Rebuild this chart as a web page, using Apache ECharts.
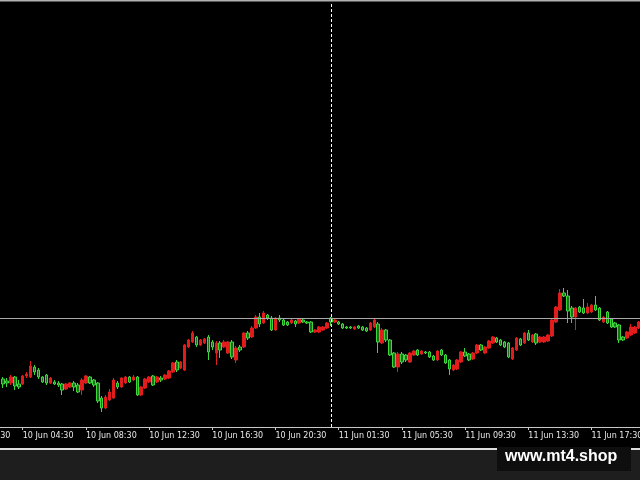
<!DOCTYPE html>
<html><head><meta charset="utf-8">
<script src="https://cdn.jsdelivr.net/npm/echarts@6/dist/echarts.min.js"></script>
<style>html,body{margin:0;padding:0;background:#000;}#c{width:640px;height:480px;}</style>
</head><body><div id="c"></div>
<script>
// ---- data (M15 candles) ----
const tickLabels = ['10 Jun 00:30','10 Jun 04:30','10 Jun 08:30','10 Jun 12:30','10 Jun 16:30','10 Jun 20:30',
  '11 Jun 01:30','11 Jun 05:30','11 Jun 09:30','11 Jun 13:30','11 Jun 17:30'];
const firstSlot = '10 Jun 00:30';     // first (off-screen) bar on the axis
const firstCandle = '10 Jun 03:15';   // first visible candle
const daySeparator = '11 Jun 01:00';  // first bar of 11 Jun
const bidLevel = 1.0932;
const slotCount = 173;

const open = [1.0871,1.0869,1.0867,1.0873,1.0866,1.0866,1.0874,1.0873,1.0883,1.0880,
1.0873,1.0875,1.0867,1.0868,1.0867,1.0866,1.0861,1.0863,1.0867,1.0865,
1.0860,1.0867,1.0873,1.0870,1.0867,1.0852,1.0842,1.0850,1.0852,1.0867,
1.0863,1.0867,1.0873,1.0870,1.0873,1.0855,1.0862,1.0868,1.0874,1.0868,
1.0872,1.0871,1.0872,1.0878,1.0888,1.0882,1.0880,1.0903,1.0908,1.0913,
1.0905,1.0907,1.0913,1.0908,1.0897,1.0907,1.0903,1.0897,1.0908,1.0890,
1.0903,1.0903,1.0917,1.0913,1.0922,1.0933,1.0927,1.0935,1.0932,1.0920,
1.0932,1.0930,1.0928,1.0927,1.0929,1.0927,1.0930,1.0928,1.0928,1.0918,
1.0918,1.0920,1.0922,1.0932,1.0928,1.0928,1.0926,1.0923,1.0923,1.0921,
1.0924,1.0923,1.0922,1.0920,1.0923,1.0926,1.0907,1.0920,1.0910,1.0897,
1.0883,1.0896,1.0895,1.0888,1.0895,1.0900,1.0896,1.0898,1.0898,1.0894,
1.0890,1.0900,1.0895,1.0890,1.0880,1.0881,1.0888,1.0898,1.0896,1.0891,
1.0897,1.0905,1.0897,1.0902,1.0907,1.0912,1.0910,1.0908,1.0907,1.0891,
1.0900,1.0911,1.0907,1.0917,1.0908,1.0916,1.0908,1.0908,1.0909,1.0914,
1.0928,1.0940,1.0957,1.0954,1.0942,1.0933,1.0943,1.0942,1.0937,1.0938,
1.0945,1.0942,1.0928,1.0938,1.0931,1.0927,1.0925,1.0913,1.0912,1.0915,
1.0917,1.0922];
const close = [1.0866,1.0867,1.0873,1.0864,1.0863,1.0874,1.0876,1.0884,1.0878,1.0873,
1.0868,1.0867,1.0872,1.0866,1.0865,1.0860,1.0866,1.0867,1.0863,1.0858,
1.0870,1.0874,1.0867,1.0865,1.0849,1.0842,1.0853,1.0858,1.0870,1.0863,
1.0872,1.0873,1.0868,1.0873,1.0855,1.0863,1.0871,1.0873,1.0865,1.0873,
1.0870,1.0875,1.0879,1.0887,1.0880,1.0888,1.0905,1.0910,1.0917,1.0905,
1.0910,1.0911,1.0898,1.0903,1.0907,1.0900,1.0908,1.0908,1.0893,1.0902,
1.0900,1.0917,1.0912,1.0922,1.0933,1.0926,1.0937,1.0932,1.0920,1.0932,
1.0930,1.0925,1.0925,1.0930,1.0926,1.0931,1.0928,1.0927,1.0918,1.0920,
1.0923,1.0923,1.0927,1.0928,1.0930,1.0926,1.0922,1.0922,1.0922,1.0923,
1.0922,1.0920,1.0919,1.0927,1.0930,1.0908,1.0920,1.0910,1.0895,1.0883,
1.0896,1.0888,1.0890,1.0897,1.0899,1.0895,1.0899,1.0897,1.0893,1.0890,
1.0899,1.0895,1.0887,1.0881,1.0885,1.0890,1.0898,1.0894,1.0890,1.0897,
1.0905,1.0900,1.0903,1.0909,1.0913,1.0908,1.0905,1.0903,1.0893,1.0902,
1.0912,1.0905,1.0917,1.0910,1.0915,1.0907,1.0913,1.0913,1.0915,1.0930,
1.0943,1.0957,1.0954,1.0939,1.0933,1.0942,1.0938,1.0937,1.0943,1.0945,
1.0940,1.0930,1.0933,1.0927,1.0923,1.0923,1.0910,1.0910,1.0918,1.0923,
1.0923,1.0928];
const high = [1.0873,1.0872,1.0875,1.0874,1.0870,1.0875,1.0878,1.0889,1.0885,1.0882,
1.0874,1.0876,1.0873,1.0870,1.0869,1.0867,1.0867,1.0868,1.0869,1.0867,
1.0872,1.0875,1.0874,1.0871,1.0868,1.0854,1.0855,1.0861,1.0872,1.0869,
1.0873,1.0874,1.0874,1.0875,1.0874,1.0864,1.0872,1.0874,1.0875,1.0874,
1.0874,1.0876,1.0880,1.0888,1.0890,1.0889,1.0906,1.0911,1.0919,1.0914,
1.0911,1.0912,1.0915,1.0910,1.0909,1.0909,1.0910,1.0909,1.0910,1.0904,
1.0905,1.0918,1.0919,1.0924,1.0935,1.0937,1.0939,1.0936,1.0934,1.0933,
1.0935,1.0931,1.0929,1.0931,1.0930,1.0932,1.0931,1.0929,1.0929,1.0921,
1.0924,1.0924,1.0928,1.0933,1.0931,1.0929,1.0927,1.0924,1.0924,1.0924,
1.0925,1.0924,1.0923,1.0928,1.0932,1.0928,1.0922,1.0921,1.0911,1.0898,
1.0898,1.0898,1.0896,1.0898,1.0900,1.0901,1.0900,1.0899,1.0899,1.0895,
1.0900,1.0901,1.0896,1.0891,1.0886,1.0891,1.0899,1.0902,1.0897,1.0898,
1.0906,1.0906,1.0904,1.0910,1.0914,1.0913,1.0911,1.0909,1.0908,1.0903,
1.0913,1.0912,1.0918,1.0920,1.0916,1.0917,1.0914,1.0914,1.0916,1.0931,
1.0944,1.0961,1.0962,1.0960,1.0944,1.0943,1.0944,1.0951,1.0947,1.0946,
1.0954,1.0943,1.0934,1.0939,1.0932,1.0928,1.0926,1.0914,1.0919,1.0926,
1.0924,1.0929];
const low = [1.0862,1.0863,1.0865,1.0860,1.0861,1.0865,1.0872,1.0872,1.0875,1.0871,
1.0867,1.0865,1.0866,1.0865,1.0863,1.0855,1.0860,1.0862,1.0859,1.0857,
1.0855,1.0866,1.0866,1.0863,1.0847,1.0838,1.0841,1.0849,1.0851,1.0861,
1.0862,1.0866,1.0867,1.0869,1.0854,1.0854,1.0861,1.0867,1.0864,1.0867,
1.0868,1.0870,1.0871,1.0877,1.0878,1.0881,1.0879,1.0902,1.0907,1.0903,
1.0904,1.0906,1.0890,1.0900,1.0885,1.0892,1.0902,1.0896,1.0891,1.0887,
1.0898,1.0902,1.0910,1.0912,1.0921,1.0923,1.0926,1.0930,1.0919,1.0919,
1.0928,1.0924,1.0924,1.0926,1.0923,1.0926,1.0927,1.0926,1.0917,1.0917,
1.0917,1.0919,1.0921,1.0924,1.0927,1.0925,1.0921,1.0921,1.0921,1.0920,
1.0921,1.0919,1.0918,1.0919,1.0922,1.0897,1.0906,1.0908,1.0894,1.0882,
1.0878,1.0886,1.0888,1.0887,1.0894,1.0894,1.0895,1.0896,1.0892,1.0889,
1.0889,1.0894,1.0886,1.0875,1.0879,1.0880,1.0887,1.0893,1.0889,1.0890,
1.0896,1.0899,1.0896,1.0901,1.0906,1.0907,1.0904,1.0902,1.0892,1.0890,
1.0899,1.0904,1.0906,1.0909,1.0907,1.0905,1.0907,1.0907,1.0908,1.0913,
1.0927,1.0939,1.0953,1.0927,1.0927,1.0920,1.0937,1.0936,1.0936,1.0937,
1.0939,1.0929,1.0927,1.0926,1.0922,1.0922,1.0907,1.0909,1.0911,1.0914,
1.0916,1.0921];

// ---- build category axis (15-minute bars, no bars 11 Jun 00:00-00:45) ----
function pad(n){ return (n < 10 ? '0' : '') + n; }
const categories = [];
(function(){
  const p = firstSlot.split(' ');
  let day = +p[0], t = p[2].split(':'), m = (+t[0]) * 60 + (+t[1]);
  for (let k = 0; k < slotCount; k++) {
    categories.push(day + ' Jun ' + pad(Math.floor(m / 60)) + ':' + pad(m % 60));
    m += 15;
    if (m >= 1440) { m -= 1440; day += 1; }
    if (day === 11 && m < 60) m = 60;
  }
})();
const lead = categories.indexOf(firstCandle);
const candleData = categories.map((c, k) => {
  const i = k - lead;
  if (i < 0 || i >= open.length) return '-';
  return [open[i], close[i], low[i], high[i]];
});
const isTick = (idx, val) => tickLabels.indexOf(val) >= 0;

const chart = echarts.init(document.getElementById('c'), null, {renderer: 'canvas'});
const band = 3.95;
const gridLeft = 2.975 - (lead + 0.5) * band;
const gridRight = 640 - (gridLeft + slotCount * band);
chart.setOption({
  backgroundColor: '#000000',
  animation: false,
  grid: { left: gridLeft, right: gridRight, top: 3, bottom: 53, containLabel: false, outerBoundsMode: 'none' },
  xAxis: {
    type: 'category', data: categories, boundaryGap: true,
    axisLine: { show: true, lineStyle: { color: '#c8c8c8', width: 1 } },
    axisTick: { show: true, interval: isTick, alignWithLabel: true, length: 3, lineStyle: { color: '#c8c8c8' } },
    axisLabel: { show: true, interval: isTick, align: 'left', margin: 5, color: '#e8e8e8',
      fontFamily: 'DejaVu Sans', fontSize: 8, hideOverlap: false, showMinLabel: true, showMaxLabel: true },
    splitLine: { show: false }
  },
  yAxis: {
    type: 'value', min: 1.0823, max: 1.1247, show: false, splitLine: { show: false }
  },
  series: [{
    type: 'candlestick',
    data: candleData,
    barWidth: 3,
    itemStyle: {
      color: '#e01c1c', borderColor: '#e01c1c',
      color0: '#1c6e1c', borderColor0: '#3cd83c',
      borderWidth: 1
    },
    markLine: {
      silent: true, symbol: ['none', 'none'], animation: false, precision: 4,
      label: { show: false },
      data: [
        { yAxis: bidLevel, lineStyle: { color: '#a8a8a8', width: 1, type: 'solid' } },
        { xAxis: daySeparator, lineStyle: { color: '#ffffff', width: 1, type: [3, 2] } }
      ]
    }
  }],
  graphic: [
    { type: 'rect', left: 0, top: 0, shape: { width: 640, height: 1 }, style: { fill: '#b0b0b0' } },
    { type: 'rect', left: 0, top: 1, shape: { width: 640, height: 1 }, style: { fill: '#5a5a5a' } },
    { type: 'rect', left: 0, top: 448, shape: { width: 640, height: 2 }, style: { fill: '#dcdcdc' } },
    { type: 'rect', left: 0, top: 450, shape: { width: 640, height: 30 }, style: { fill: '#1e1e1e' } },
    { type: 'rect', left: 497, top: 447, shape: { width: 134, height: 24 }, style: { fill: '#0e0e0e' } },
    { type: 'text', left: 505, top: 449, style: { text: 'www.mt4.shop', fill: '#ffffff',
      font: 'bold 16px "Liberation Sans", Arial, sans-serif' } }
  ]
});
</script>
</body></html>
